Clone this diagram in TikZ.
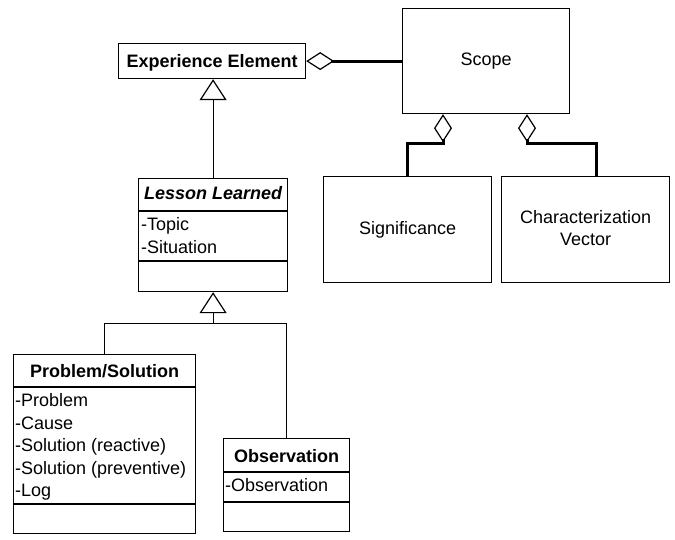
\documentclass[tikz,border=0pt]{standalone}
\usepackage{fontspec}
\setmainfont{Liberation Sans}
\usetikzlibrary{arrows.meta}
\begin{document}
\begin{tikzpicture}[x=1pt,y=-1pt,
  box/.style={draw,line width=1.2pt,rectangle,inner sep=0pt,anchor=north west},
  lbl/.style={inner sep=0pt,font=\fontsize{18}{22.5}\selectfont},
  hdr/.style={lbl,font=\fontsize{18}{22.5}\selectfont\bfseries,anchor=base},
  attr/.style={lbl,anchor=north west,align=left},
  divider/.style={line width=1.2pt},
  conn/.style={line width=1.2pt},
  inh/.style={line width=1.2pt,-{Triangle[open,length=21pt,width=27pt,line width=1.2pt]}},
  agg/.style={line width=3pt,-{Diamond[open,length=28pt,width=18pt,line width=1.2pt]}}]
\fill[white] (0,0) rectangle (675,540);
\useasboundingbox (0,0) rectangle (675,540);

% Experience Element
\node[box,minimum width=187pt,minimum height=35pt] (ee) at (118,43) {};
\node[hdr] (eet) at ([yshift=-25pt]ee.north) {Experience Element};

% Scope
\node[box,minimum width=167pt,minimum height=105pt] (scope) at (402,8) {};
\node[lbl,anchor=base] (scopet) at ([yshift=-58pt]scope.north) {Scope};

% Significance
\node[box,minimum width=168pt,minimum height=106pt] (sig) at (323,176) {};
\node[lbl,anchor=base] (sigt) at ([yshift=-58.5pt]sig.north) {Significance};

% Characterization Vector
\node[box,minimum width=168pt,minimum height=106pt] (char) at (501,176) {};
\node[lbl,align=center] (chart) at ([yshift=1.5pt]char.center) {Characterization\\Vector};

% Lesson Learned
\node[box,minimum width=149pt,minimum height=113pt] (ll) at (138,178) {};
\node[hdr,font=\fontsize{18}{22.5}\selectfont\bfseries\itshape] (llt) at ([yshift=-22pt]ll.north) {Lesson Learned};
\draw[divider] (ll.west |- 0,211) -- (ll.east |- 0,211);
\draw[divider] (ll.west |- 0,261) -- (ll.east |- 0,261);
\node[attr] (lla) at ([xshift=3pt]ll.west |- 0,217.6) {-Topic\\-Situation};

% Problem/Solution
\node[box,minimum width=182pt,minimum height=179pt] (ps) at (13,354) {};
\node[hdr] (pst) at ([yshift=-23pt]ps.north) {Problem/Solution};
\draw[divider] (ps.west |- 0,387) -- (ps.east |- 0,387);
\draw[divider] (ps.west |- 0,504) -- (ps.east |- 0,504);
\node[attr] (psa) at ([xshift=2pt]ps.west |- 0,393.6) {-Problem\\-Cause\\-Solution (reactive)\\-Solution (preventive)\\-Log};

% Observation
\node[box,minimum width=126pt,minimum height=93pt] (obs) at (223,438) {};
\node[hdr] (obst) at ([yshift=-24pt]obs.north) {Observation};
\draw[divider] (obs.west |- 0,472) -- (obs.east |- 0,472);
\draw[divider] (obs.west |- 0,502) -- (obs.east |- 0,502);
\node[attr] (obsa) at ([xshift=2pt]obs.west |- 0,478.6) {-Observation};

% Generalisation
\draw[inh] (ll.north) -- (ll.north |- ee.south);
\coordinate (j1) at ([yshift=-31.5pt]ll.south);
\draw[conn] (ps.north) |- (j1) -| (obs.north);
\draw[inh] (j1) -- (ll.south);

% Aggregations
\draw[agg] (scope.west) -- (ee.east);
\coordinate (s1) at (443,144);
\coordinate (s2) at (527,144);
\draw[agg] (sig.north) |- (s1) -- (s1 |- scope.south);
\coordinate (c1) at ([xshift=11pt]char.north);
\draw[agg] (c1) |- (s2) -- (s2 |- scope.south);
\end{tikzpicture}
\end{document}
